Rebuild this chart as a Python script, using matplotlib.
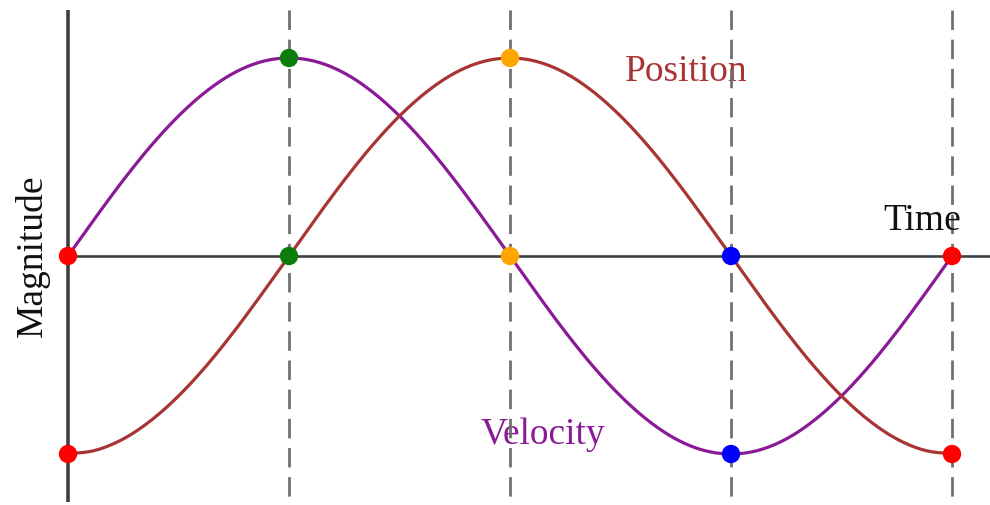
import numpy as np
import matplotlib.pyplot as plt

# time in quarter periods (0 .. 4), sampled every 1/8
time = np.linspace(0, 4, 33)

velocity = [0.0, 0.195, 0.383, 0.556, 0.707, 0.831, 0.924, 0.981, 1.0,
            0.981, 0.924, 0.831, 0.707, 0.556, 0.383, 0.195, 0.0,
            -0.195, -0.383, -0.556, -0.707, -0.831, -0.924, -0.981, -1.0,
            -0.981, -0.924, -0.831, -0.707, -0.556, -0.383, -0.195, 0.0]

position = [-1.0, -0.981, -0.924, -0.831, -0.707, -0.556, -0.383, -0.195, 0.0,
            0.195, 0.383, 0.556, 0.707, 0.831, 0.924, 0.981, 1.0,
            0.981, 0.924, 0.831, 0.707, 0.556, 0.383, 0.195, 0.0,
            -0.195, -0.383, -0.556, -0.707, -0.831, -0.924, -0.981, -1.0]

# marked points
mark_t = [0, 0, 1, 1, 2, 2, 3, 3, 4, 4]
mark_y = [0, -1, 1, 0, 1, 0, 0, -1, 0, -1]
mark_c = ['#ff0000', '#ff0000', '#0a7d0a', '#0a7d0a', '#ffa500', '#ffa500',
          '#0000ff', '#0000ff', '#ff0000', '#ff0000']

dash_t = [1, 2, 3, 4]

purple = '#8a1a96'
brown = '#a83434'


def smooth(x, y, n=12):
    # cubic hermite through the samples, only to draw a smooth line
    x = np.asarray(x, float)
    y = np.asarray(y, float)
    m = np.gradient(y, x)
    xs, ys = [], []
    for i in range(len(x) - 1):
        h = x[i + 1] - x[i]
        s = np.linspace(0, 1, n, endpoint=False)
        h00 = 2 * s**3 - 3 * s**2 + 1
        h10 = s**3 - 2 * s**2 + s
        h01 = -2 * s**3 + 3 * s**2
        h11 = s**3 - s**2
        xs.append(x[i] + s * h)
        ys.append(h00 * y[i] + h10 * h * m[i] + h01 * y[i + 1] + h11 * h * m[i + 1])
    xs.append([x[-1]])
    ys.append([y[-1]])
    return np.concatenate(xs), np.concatenate(ys)


fig = plt.figure(figsize=(9.9, 5.05), dpi=100)
ax = fig.add_axes([0, 0, 1, 1])
ax.set_xlim(-68 / 221, (990 - 68) / 221)
ax.set_ylim(-249 / 198, 256 / 198)
ax.axis('off')

# axes lines
ax.plot([0, 0], [1.242, -1.242], color='#404040', lw=2.6, solid_capstyle='butt', zorder=2)
ax.plot([0, 5], [0, 0], color='#404040', lw=1.9, zorder=2)

# dashed guides
for t in dash_t:
    ax.plot([t, t], [1.242, -1.242], color='#707070', lw=2.0,
            linestyle=(0, (7, 3.5)), zorder=3)

ax.plot(*smooth(time, velocity), color=purple, lw=2.3, zorder=4)
ax.plot(*smooth(time, position), color=brown, lw=2.3, zorder=4)

ax.scatter(mark_t, mark_y, c=mark_c, s=175, zorder=5, linewidths=0)

serif = 'Liberation Serif'
ax.text(-36 / 221, 0, 'Magnitude', rotation=90, ha='center', va='center',
        fontsize=27, family=serif, color='#111111')
ax.text(3.865, 0.18, 'Time', ha='center', va='center', fontsize=27,
        family=serif, color='#111111')
ax.text(2.796, 0.93, 'Position', ha='center', va='center', fontsize=27,
        family=serif, color=brown, zorder=1)
ax.text(2.149, -0.905, 'Velocity', ha='center', va='center', fontsize=27,
        family=serif, color=purple, zorder=1)

plt.savefig('out.png', dpi=100)
